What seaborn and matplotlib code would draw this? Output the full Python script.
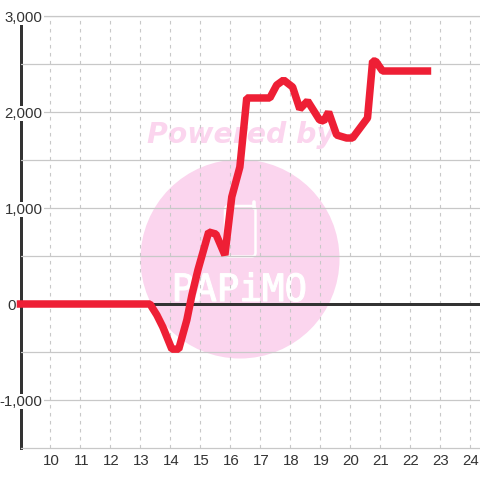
import matplotlib
matplotlib.use("Agg")
import matplotlib.pyplot as plt
import matplotlib.patheffects as pe
import pandas as pd
import seaborn as sns
from matplotlib.lines import Line2D
from matplotlib.patches import Circle, FancyBboxPatch
from matplotlib.transforms import ScaledTranslation
from matplotlib.ticker import FixedLocator

hours = [9, 13.32, 13.55, 13.75, 14.05, 14.28, 14.55, 14.72, 14.92, 15.28, 15.52,
         15.82, 16.05, 16.32, 16.55, 17.32, 17.55, 17.78, 18.08, 18.32, 18.58,
         18.98, 19.12, 19.28, 19.55, 19.88, 20.08, 20.58, 20.75, 20.85, 21.08, 22.58]
values = [0, 0, -115, -240, -470, -470, -167, 94, 354, 750, 729,
          510, 1115, 1427, 2146, 2146, 2281, 2333, 2260, 2031, 2115,
          1917, 1906, 2000, 1760, 1729, 1729, 1938, 2530, 2530, 2427, 2427]
x_ticks = list(range(10, 25))
y_major = [-1000, 0, 1000, 2000, 3000]
y_minor = [-500, 500, 1500, 2500]
y_labels = ["-1,000", "0", "1,000", "2,000", "3,000"]

sns.set_theme(style="whitegrid")
plt.rcParams["font.family"] = ["Liberation Sans", "DejaVu Sans"]

fig = plt.figure(figsize=(4.8, 4.8), dpi=100, facecolor="white")
ax = fig.add_axes([20.5 / 480, 32 / 480, 459.5 / 480, 432 / 480])
ax.patch.set_visible(False)

# Watermark sits behind the axes, placed in figure fractions
pink = "#fbd5ee"
fig.add_artist(Circle((240 / 480, 1 - 259 / 480), 99.5 / 480, transform=fig.transFigure,
                      facecolor=pink, edgecolor="none", zorder=-2))
fig.add_artist(FancyBboxPatch((225 / 480, 1 - 256.5 / 480), 30.5 / 480, 50.5 / 480,
                              boxstyle="round,pad=0,rounding_size=0.008",
                              transform=fig.transFigure, facecolor="none",
                              edgecolor="white", linewidth=1.8, zorder=-1))
fig.add_artist(Line2D([254.5 / 480, 254.5 / 480], [1 - 208 / 480, 1 - 201.5 / 480],
                      transform=fig.transFigure, color="white", linewidth=2.6,
                      solid_capstyle="round", zorder=-1))
fig.text(240.5 / 480, 1 - 135 / 480, "Powered by", color=pink, family="DejaVu Sans",
         weight="bold", style="italic", fontsize=20.4, ha="center", va="center", zorder=-1)
logo = fig.text(239.5 / 480, 1 - 291 / 480, "PAPiMO", color="white", family="DejaVu Sans Mono",
                fontsize=27, ha="center", va="center", zorder=-1)
logo.set_path_effects([pe.withStroke(linewidth=0.8, foreground="white")])

df = pd.DataFrame({"hour": hours, "value": values})
sns.lineplot(data=df, x="hour", y="value", color="#ee1f35", linewidth=5.4, ax=ax,
             zorder=5, clip_on=False, solid_capstyle="projecting", solid_joinstyle="bevel",
             errorbar=None, sort=False)
ax.axhline(0, color="#333333", linewidth=2.16, zorder=3)

ax.set_xlim(9, 24 + 1 / 3)
ax.set_ylim(-1500, 3000)
ax.set_xlabel("")
ax.set_ylabel("")

ax.set_xticks(x_ticks)
ax.set_yticks(y_major)
ax.set_yticklabels(y_labels)
ax.yaxis.set_minor_locator(FixedLocator(y_minor))
ax.set_axisbelow(False)

ax.grid(False)
ax.grid(axis="y", which="both", color="#c8c8c8", linewidth=0.9, linestyle="-")
ax.grid(axis="x", which="major", color="#c8c8c8", linewidth=0.8, linestyle=(0, (3.2, 4)))
ax.tick_params(axis="both", which="both", length=0)
ax.tick_params(axis="x", labelsize=10.8, labelcolor="#333333", pad=4.5)
ax.tick_params(axis="y", labelsize=10.8, labelcolor="#333333", pad=-16)

for tick in ax.xaxis.get_major_ticks():
    txt = tick.label1
    txt.set_transform(txt.get_transform() + ScaledTranslation(0.01, 0, fig.dpi_scale_trans))

for tick, label in zip(ax.yaxis.get_major_ticks(), y_labels):
    txt = tick.label1
    txt.set_bbox(dict(facecolor="white", edgecolor="none", pad=0.6))
    if label == "0":
        # the zero label sits left of the axis line
        txt.set_transform(txt.get_transform() + ScaledTranslation(-0.27, 0, fig.dpi_scale_trans))

for side in ["top", "bottom"]:
    ax.spines[side].set_color("#c8c8c8")
    ax.spines[side].set_linewidth(0.9)
ax.spines["right"].set_visible(False)
ax.spines["left"].set_color("#333333")
ax.spines["left"].set_linewidth(2.16)

fig.savefig("out.png", dpi=100)
